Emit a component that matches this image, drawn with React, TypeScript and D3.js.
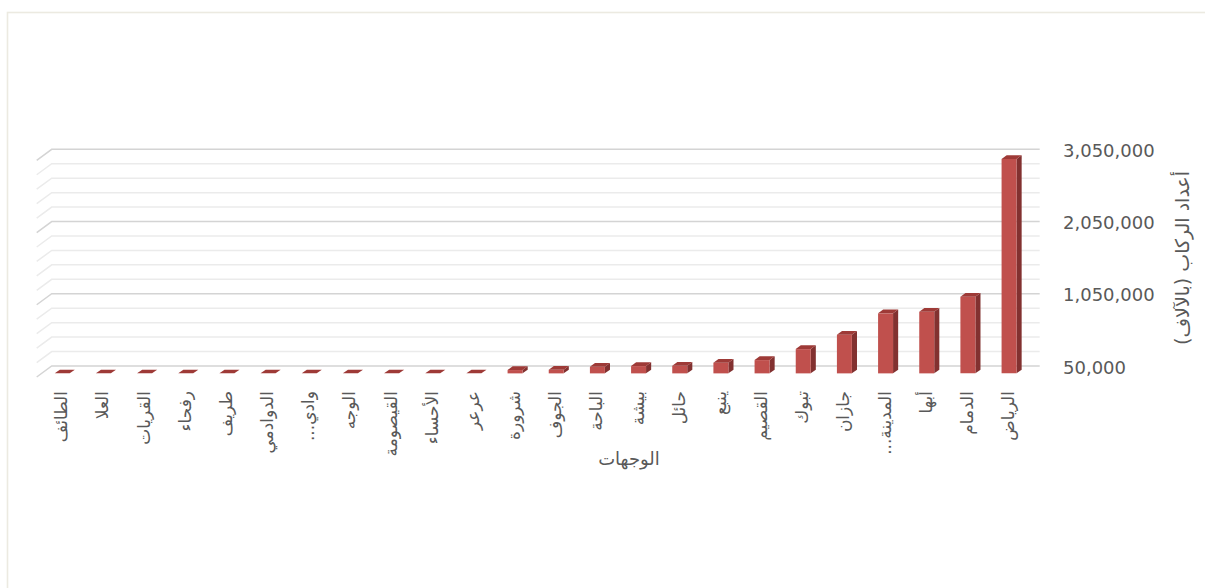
import React from "react";
import * as d3 from "d3";

const categories = [
  "الطائف", "العلا", "القريات", "رفحاء", "طريف", "الدوادمي", "وادي...", "الوجه",
  "القيصومة", "الأحساء", "عرعر", "شرورة", "الجوف", "الباحة", "بيشة", "حائل",
  "ينبع", "القصيم", "تبوك", "جازان", "المدينة...", "أبها", "الدمام", "الرياض",
];
const passengers = [
  15000, 18000, 22000, 25000, 28000, 30000, 33000, 36000,
  40000, 45000, 48000, 96000, 100000, 141000, 151000, 155000,
  197000, 234000, 386000, 585000, 881000, 903000, 1111000, 3018000,
];
const tickValues = [50000, 1050000, 2050000, 3050000];
const axisMin = 50000;
const axisMax = 3050000;
const minorStep = 200000;
const xTitle = "الوجهات";
const yTitle = "أعداد الركاب (بالآلاف)";

const W = 1205;
const H = 588;
const DX = 15; // depth offset x
const DY = 11; // depth offset y
const DF = 0.33; // bar front depth
const DB = 0.67; // bar back depth
const RLM = "\u200F";

export default function App() {
  const x = d3
    .scaleBand<string>()
    .domain(categories)
    .range([36.7, 1024.7])
    .paddingInner(0.636)
    .paddingOuter(0.318);
  const y = d3.scaleLinear().domain([axisMin, axisMax]).range([366, 149.3]).clamp(true);

  const gridVals = d3.range(axisMin, axisMax + 1, minorStep);
  const x0 = 36.7;
  const x1 = 1024.7;

  const proj = (px: number, v: number, d: number): [number, number] => [
    px + d * DX,
    y(v) + (1 - d) * DY,
  ];
  const pts = (arr: [number, number][]) => arr.map((p) => p.join(",")).join(" ");

  return (
    <svg
      width={W}
      height={H}
      style={{ position: "absolute", left: 0, top: 0, background: "#fff" }}
    >
      <rect x={7.5} y={12.5} width={1300} height={700} fill="none" stroke="#ECEAE1" strokeWidth={1.6} />

      {/* gridlines with side wall */}
      {gridVals.map((v, i) => {
        const major = tickValues.includes(v);
        const col = major ? "#D4D4D4" : "#EBEBEB";
        const a = proj(x0, v, 0);
        const b = proj(x0, v, 1);
        const c = proj(x1, v, 1);
        return (
          <polyline
            key={i}
            points={pts([a, b, c])}
            fill="none"
            stroke={col}
            strokeWidth={1.5}
          />
        );
      })}

      {/* bars */}
      {categories.map((cat, i) => {
        const v = passengers[i];
        const bx = x(cat)!;
        const bw = x.bandwidth();
        const ftl = proj(bx, v, DF);
        const ftr = proj(bx + bw, v, DF);
        const btr = proj(bx + bw, v, DB);
        const btl = proj(bx, v, DB);
        const fbr = proj(bx + bw, axisMin, DF);
        const fbl = proj(bx, axisMin, DF);
        const bbr = proj(bx + bw, axisMin, DB);
        return (
          <g key={cat}>
            <polygon points={pts([ftr, btr, bbr, fbr])} fill="#823130" />
            <polygon points={pts([ftl, fbl, fbr, ftr])} fill="#C0504D" />
            <polygon points={pts([ftl, ftr, btr, btl])} fill="#9E3A37" />
          </g>
        );
      })}

      {/* tick labels */}
      {tickValues.map((v) => (
        <text
          key={v}
          x={1063}
          y={y(v) + 1}
          dominantBaseline="central"
          fontFamily="DejaVu Sans"
          fontSize={18}
          fill="#595959"
        >
          {d3.format(",")(v)}
        </text>
      ))}

      {/* category labels */}
      {categories.map((cat) => {
        const cx = x(cat)! + x.bandwidth() / 2 + 4;
        const cy = 391;
        return (
          <text
            key={cat}
            x={cx}
            y={cy}
            transform={`rotate(-90 ${cx} ${cy})`}
            textAnchor="end"
            dominantBaseline="central"
            fontFamily="DejaVu Sans"
            fontSize={17}
            fill="#595959"
          >
            {cat + RLM}
          </text>
        );
      })}

      <text
        x={629}
        y={458}
        textAnchor="middle"
        dominantBaseline="central"
        fontFamily="DejaVu Sans"
        fontSize={18}
        fill="#595959"
      >
        {xTitle}
      </text>

      <text
        x={1182}
        y={258}
        transform="rotate(-90 1182 258)"
        textAnchor="middle"
        dominantBaseline="central"
        fontFamily="DejaVu Sans"
        fontSize={19}
        fill="#595959"
      >
        {yTitle + RLM}
      </text>
    </svg>
  );
}
